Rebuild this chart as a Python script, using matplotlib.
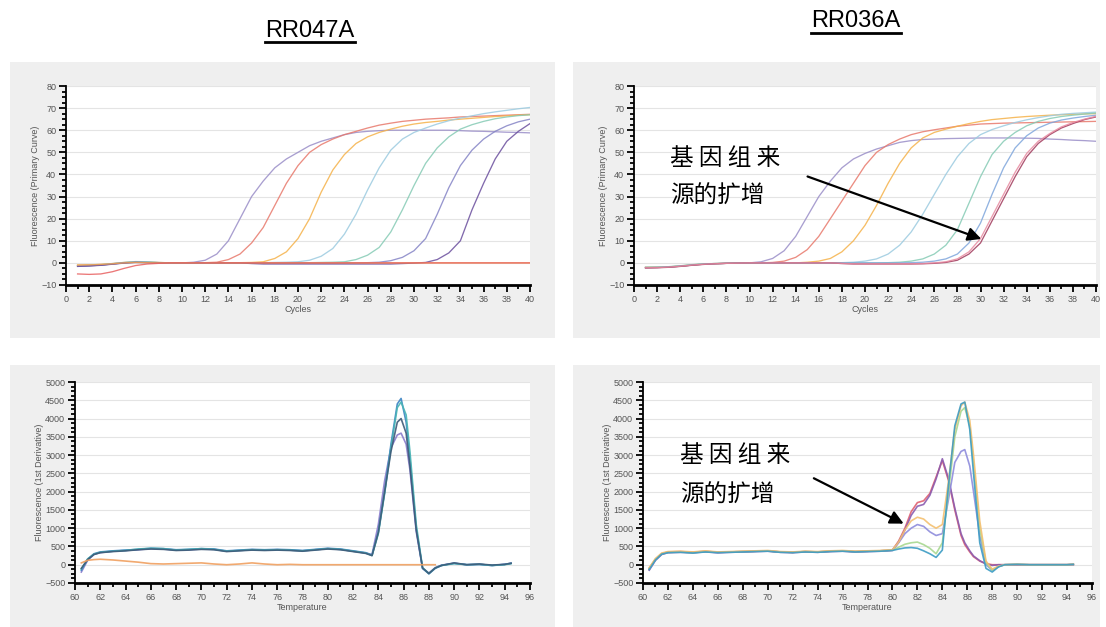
import matplotlib
matplotlib.use('Agg')
import matplotlib.pyplot as plt
from matplotlib.patches import Rectangle
from matplotlib.lines import Line2D
from matplotlib.ticker import MultipleLocator

plt.rcParams['font.family'] = ['Liberation Sans', 'DejaVu Sans']

# ---------------- data ----------------
cycles = list(range(1, 41))

# RR047A amplification (fluorescence per cycle)
amp1 = {
    '#9a8ec8': [-1.5, -1.3, -1.0, -0.5, 0.0, 0.3, 0.2, 0.0, 0.0, 0.0, 0.3, 1.2, 4, 10, 20, 30, 37, 43, 47, 50,
                53, 55, 56.5, 58, 59, 59.5, 59.8, 60, 60, 60, 60, 60, 60, 59.8, 59.6, 59.5, 59.3, 59.1, 59, 58.8],
    '#e8796c': [-1.2, -1.1, -0.9, -0.4, 0.1, 0.4, 0.3, 0.1, 0.0, 0.0, 0.0, 0.1, 0.3, 1.5, 4, 9, 16, 26, 36, 44,
                50, 53.5, 56, 58, 59.5, 61, 62.3, 63.2, 64, 64.5, 65, 65.3, 65.6, 66, 66.2, 66.4, 66.6, 66.8, 67, 67.2],
    '#f5b24a': [-1.0, -0.9, -0.7, -0.3, 0.2, 0.5, 0.4, 0.2, 0.0, 0.0, 0.0, 0.0, 0.0, 0.0, 0.1, 0.2, 0.5, 2, 5, 11,
                20, 32, 42, 49, 54, 57, 59, 60.5, 61.8, 62.8, 63.5, 64, 64.6, 65, 65.4, 65.8, 66.2, 66.5, 66.8, 67],
    '#9ccbe0': [-1.3, -1.1, -0.8, -0.3, 0.2, 0.6, 0.5, 0.2, 0.0, 0.0, 0.0, 0.0, 0.0, 0.0, 0.0, 0.0, 0.1, 0.2, 0.3, 0.5,
                1.2, 3, 6.5, 13, 22, 33, 43, 51, 56, 59, 61, 62.8, 64.3, 65.5, 66.5, 67.5, 68.3, 69, 69.7, 70.3],
    '#86cbb5': [-1.4, -1.2, -0.9, -0.4, 0.1, 0.5, 0.4, 0.1, 0.0, 0.0, 0.0, 0.0, 0.0, 0.0, 0.0, 0.0, 0.0, 0.0, 0.0, 0.1,
                0.1, 0.2, 0.3, 0.5, 1.5, 3.5, 7, 14, 24, 35, 45, 52, 57, 60.5, 62.5, 64, 65.2, 66, 66.6, 67],
    '#8584c6': [-1.5, -1.3, -1.0, -0.5, 0.0, 0.3, 0.2, 0.0, 0.0, 0.0, 0.0, 0.0, 0.0, 0.0, 0.0, 0.0, -0.2, -0.2, -0.2, -0.2,
                -0.2, -0.2, -0.2, -0.1, 0.0, 0.1, 0.3, 1, 2.5, 5.5, 11, 22, 34, 44, 51, 56, 59.5, 62, 63.8, 65],
    '#6b4f9e': [-1.6, -1.4, -1.1, -0.6, -0.1, 0.2, 0.1, 0.0, 0.0, 0.0, 0.0, 0.0, 0.0, 0.0, 0.0, -0.3, -0.5, -0.5, -0.5, -0.5,
                -0.5, -0.5, -0.5, -0.5, -0.5, -0.5, -0.5, -0.5, -0.3, -0.1, 0.2, 1.5, 4.5, 10, 24, 36, 47, 55, 59.5, 63],
    '#f0a050': [-1.0, -0.9, -0.7, -0.4, 0.0, 0.2, 0.1, 0.0, 0.0, 0.0, 0.0, 0.0, 0.0, 0.0, 0.0, 0.0, 0.0, 0.0, 0.0, 0.0,
                0.0, 0.0, 0.0, 0.0, 0.0, 0.0, 0.0, 0.0, 0.0, 0.0, 0.0, 0.0, 0.0, 0.0, 0.0, 0.0, 0.0, 0.0, 0.0, 0.0],
    '#e86060': [-5.0, -5.2, -5.0, -4.0, -2.5, -1.2, -0.5, -0.2, 0.0, 0.0, 0.0, 0.0, 0.0, 0.0, 0.0, 0.0, 0.0, 0.0, 0.0, 0.0,
                0.0, 0.0, 0.0, 0.0, 0.0, 0.0, 0.0, 0.0, 0.0, 0.0, 0.0, 0.0, 0.0, 0.0, 0.0, 0.0, 0.0, 0.0, 0.0, 0.0],
}

# RR036A amplification
amp2 = {
    '#9a8ec8': [-2.0, -2.0, -1.8, -1.5, -1.0, -0.5, -0.3, -0.2, -0.1, 0.0, 0.5, 2, 5.5, 12, 21, 30, 37, 43, 47, 49.5,
                51.5, 53, 54.5, 55.3, 55.8, 56, 56.2, 56.3, 56.4, 56.5, 56.5, 56.5, 56.5, 56.4, 56.3, 56, 55.8, 55.5, 55.3, 55],
    '#e8796c': [-2.2, -2.1, -1.9, -1.5, -1.0, -0.6, -0.4, -0.2, -0.1, 0.0, 0.0, 0.2, 0.8, 2.5, 6, 12, 20, 28, 36, 44,
                50, 53.5, 56, 58, 59.3, 60.2, 61, 61.8, 62.3, 62.8, 63, 63.2, 63.3, 63.4, 63.5, 63.6, 63.7, 63.8, 63.9, 64],
    '#f5b24a': [-2.0, -1.9, -1.8, -1.4, -0.9, -0.5, -0.3, -0.2, -0.1, 0.0, 0.0, 0.0, 0.0, 0.0, 0.3, 0.8, 2, 5, 10, 17,
                26, 36, 45, 52, 56.5, 59, 60.5, 61.8, 63, 64, 64.8, 65.3, 65.8, 66.2, 66.5, 66.8, 67, 67.2, 67.4, 67.5],
    '#9ccbe0': [-2.1, -2.0, -1.8, -1.4, -0.9, -0.5, -0.3, -0.2, -0.1, 0.0, 0.0, 0.0, 0.0, 0.0, 0.0, 0.0, 0.0, 0.1, 0.3, 0.8,
                1.8, 4, 8, 14, 22, 31, 40, 48, 54, 58, 60.3, 62, 63.5, 64.7, 65.7, 66.5, 67.2, 67.6, 67.9, 68.2],
    '#86cbb5': [-2.0, -1.9, -1.7, -1.3, -0.8, -0.4, -0.3, -0.2, -0.1, 0.0, 0.0, 0.0, 0.0, 0.0, 0.0, 0.0, 0.0, 0.0, 0.0, 0.0,
                0.0, 0.1, 0.3, 0.8, 1.8, 4, 8, 15, 27, 39, 49, 55, 59, 62, 64, 65.3, 66.2, 66.8, 67.3, 67.8],
    '#7fa6dc': [-2.2, -2.1, -1.9, -1.5, -1.0, -0.6, -0.4, -0.2, -0.1, 0.0, 0.0, 0.0, 0.0, 0.0, 0.0, 0.0, 0.0, 0.0, 0.0, 0.0,
                0.0, 0.0, 0.0, 0.1, 0.3, 0.8, 1.8, 4, 9, 18, 31, 43, 52, 57.5, 61, 63.2, 64.6, 65.5, 66.2, 66.8],
    '#a03a5c': [-2.3, -2.2, -2.0, -1.6, -1.1, -0.7, -0.4, -0.2, -0.1, 0.0, 0.0, 0.0, 0.0, 0.0, 0.0, 0.0, 0.0, -0.3, -0.5, -0.5,
                -0.5, -0.5, -0.5, -0.5, -0.4, -0.2, 0.2, 1.2, 4, 9, 19, 29, 39, 48, 54, 58, 61, 63, 64.8, 66],
    '#e88aa0': [-2.2, -2.1, -1.9, -1.5, -1.0, -0.6, -0.4, -0.2, -0.1, 0.0, 0.0, 0.0, 0.0, 0.0, 0.0, 0.0, 0.0, -0.2, -0.4, -0.4,
                -0.4, -0.4, -0.4, -0.4, -0.3, 0.0, 0.5, 1.8, 5, 11, 21, 31, 41, 49.5, 55, 58.5, 61.5, 63.5, 65, 66.3],
}

# RR047A melt curve (1st derivative)
temp1 = [60.5, 61, 61.5, 62, 63, 64, 65, 66, 67, 68, 69, 70, 71, 72, 73, 74, 75, 76, 77, 78, 79, 80, 81, 82, 83,
         83.5, 84, 84.5, 85, 85.5, 85.8, 86.2, 86.5, 87, 87.5, 88, 88.5, 89, 90, 91, 92, 93, 94, 94.5]
melt1 = {
    '#8a7ccc': [-200, 120, 280, 330, 370, 390, 410, 440, 430, 400, 410, 430, 420, 370, 390, 410, 400, 410, 400, 380,
                410, 440, 420, 370, 320, 280, 1100, 2300, 3200, 3550, 3600, 3300, 2600, 900, -100, -230, -80, -10, 40, 0, 10, -20, 10, 40],
    '#3c84c4': [-150, 150, 300, 350, 380, 400, 420, 450, 440, 410, 420, 440, 430, 380, 400, 420, 410, 420, 410, 390,
                420, 450, 430, 380, 330, 260, 900, 2000, 3300, 4400, 4550, 3900, 2900, 1000, -100, -250, -100, -20, 40, 0, 10, -20, 10, 40],
    '#48b4b4': [-120, 160, 290, 340, 370, 390, 430, 450, 440, 400, 420, 440, 420, 370, 390, 410, 400, 410, 400, 380,
                410, 440, 420, 370, 320, 250, 850, 1950, 3200, 4300, 4450, 4100, 3100, 1100, -80, -240, -90, -20, 30, 0, 10, -20, 0, 30],
    '#3e5a78': [-100, 140, 280, 330, 360, 380, 410, 430, 420, 390, 400, 420, 410, 360, 380, 400, 390, 400, 390, 370,
                400, 430, 410, 360, 310, 250, 880, 2000, 3100, 3900, 4000, 3600, 2700, 950, -90, -240, -90, -20, 50, 0, 20, -10, 10, 40],
    '#f0a060': [50, 120, 140, 150, 130, 100, 70, 30, 20, 30, 40, 50, 20, 0, 20, 50, 20, 0, 10, 0,
                0, 0, 0, 0, 0, 0, 0, 0, 0, 0, 0, 0, 0, 0, 0, 0, 0, None, None, None, None, None, None, None],
}

# RR036A melt curve
temp2 = [60.5, 61, 61.5, 62, 63, 64, 65, 66, 67, 68, 69, 70, 71, 72, 73, 74, 75, 76, 77, 78, 79, 80, 80.5, 81, 81.5,
         82, 82.5, 83, 83.5, 84, 84.5, 85, 85.5, 85.8, 86.2, 86.5, 87, 87.5, 88, 88.5, 89, 90, 91, 92, 93, 94, 94.5]
melt2 = {
    '#e06070': [-100, 150, 300, 350, 360, 340, 370, 340, 350, 360, 370, 380, 350, 340, 360, 350, 370, 380, 360, 370,
                380, 400, 650, 1000, 1450, 1700, 1750, 1950, 2400, 2850, 2300, 1500, 800, 550, 350, 220, 100, 30, 0, 0,
                0, 0, 0, 0, 0, 0, 10],
    '#8a5cb0': [-150, 120, 280, 330, 340, 330, 350, 330, 340, 350, 360, 370, 340, 330, 350, 340, 360, 370, 350, 360,
                370, 390, 620, 950, 1350, 1600, 1650, 1900, 2350, 2900, 2350, 1550, 850, 600, 380, 240, 110, 20, -20, 0,
                0, 0, 0, 0, 0, 0, 0],
    '#8e8cdc': [-120, 140, 300, 340, 350, 330, 360, 330, 350, 360, 370, 380, 350, 340, 360, 350, 370, 380, 360, 370,
                380, 400, 600, 850, 1000, 1100, 1050, 900, 800, 850, 1800, 2800, 3100, 3150, 2700, 2000, 800, 0, -150, -50,
                0, 10, 0, 0, 0, 0, 10],
    '#a8d890': [-100, 150, 300, 340, 350, 330, 360, 340, 350, 360, 370, 380, 350, 340, 360, 350, 370, 380, 360, 370,
                380, 400, 480, 560, 600, 620, 550, 450, 300, 600, 2000, 3500, 4200, 4300, 3800, 2800, 1000, 50, -150, -50,
                0, 10, 0, 0, 0, 0, 10],
    '#f4c070': [-80, 170, 320, 360, 370, 350, 380, 350, 360, 370, 380, 390, 360, 350, 370, 360, 380, 390, 370, 380,
                390, 410, 620, 950, 1200, 1300, 1250, 1100, 1000, 1100, 2300, 3700, 4350, 4450, 3950, 3000, 1200, 100, -120, -40,
                0, 10, 0, 0, 0, 0, 10],
    '#3c9cc4': [-130, 130, 290, 330, 340, 320, 350, 330, 340, 350, 360, 370, 340, 330, 350, 340, 360, 370, 350, 360,
                370, 390, 430, 460, 470, 450, 380, 300, 200, 400, 2200, 3800, 4400, 4450, 3700, 2500, 600, -100, -200, -60,
                0, 10, 0, 0, 0, 0, 10],
}

# ---------------- figure ----------------
W, H = 1106, 627
fig = plt.figure(figsize=(W / 100, H / 100), dpi=100)
fig.patch.set_facecolor('white')


def px_box(x0, y0, x1, y1):
    return [x0 / W, 1 - y1 / H, (x1 - x0) / W, (y1 - y0) / H]


# grey panel backgrounds
for x0, y0, x1, y1 in [(10, 62, 555, 338), (573, 62, 1100, 338), (10, 365, 555, 627), (573, 365, 1100, 627)]:
    fig.patches.append(Rectangle((x0 / W, 1 - y1 / H), (x1 - x0) / W, (y1 - y0) / H,
                                 transform=fig.transFigure, facecolor='#efefef', edgecolor='none', zorder=-5))


def style_axes(ax, xlim, ylim, xmaj, ymaj, ymin, xlabel, ylabel):
    ax.set_facecolor('white')
    ax.set_xlim(*xlim)
    ax.set_ylim(*ylim)
    ax.xaxis.set_major_locator(MultipleLocator(xmaj))
    ax.xaxis.set_minor_locator(MultipleLocator(xmaj / 2))
    ax.yaxis.set_major_locator(MultipleLocator(ymaj))
    ax.yaxis.set_minor_locator(MultipleLocator(ymin))
    for s in ['top', 'right']:
        ax.spines[s].set_visible(False)
    ax.spines['left'].set_linewidth(1.3)
    ax.spines['bottom'].set_linewidth(2.0)
    ax.tick_params(which='major', length=5, width=1.3, labelsize=6.5, labelcolor='#555555', pad=2)
    ax.tick_params(which='minor', length=3, width=1.3)
    ax.grid(axis='y', color='#e4e4e4', linewidth=0.8)
    ax.set_axisbelow(True)
    ax.set_xlabel(xlabel, fontsize=6.5, color='#555555', labelpad=1)
    ax.set_ylabel(ylabel, fontsize=6.5, color='#555555', labelpad=1)


ax1 = fig.add_axes(px_box(66, 86, 530, 285))
ax2 = fig.add_axes(px_box(634, 86, 1096, 285))
ax3 = fig.add_axes(px_box(75, 382, 530, 583))
ax4 = fig.add_axes(px_box(643, 382, 1092, 583))

for ax, data in [(ax1, amp1), (ax2, amp2)]:
    for color, vals in data.items():
        ax.plot(cycles, vals, color=color, linewidth=0.95, alpha=0.85)
    style_axes(ax, (0, 40), (-10, 80), 2, 10, 2.5, 'Cycles', 'Fluorescence (Primary Curve)')

for ax, temps, data in [(ax3, temp1, melt1), (ax4, temp2, melt2)]:
    for color, vals in data.items():
        ax.plot(temps, vals, color=color, linewidth=1.2, alpha=0.9)
    style_axes(ax, (60, 96), (-500, 5000), 2, 500, 125, 'Temperature', 'Fluorescence (1st Derivative)')

# titles with underline
for label, cx, cy, uy in [('RR047A', 310, 31, 42), ('RR036A', 856, 21, 33)]:
    fig.text(cx / W, 1 - cy / H, label, ha='center', va='center', fontsize=17,
             family=['Liberation Sans Narrow', 'Liberation Sans'])
    fig.lines.append(Line2D([(cx - 45) / W, (cx + 45) / W], [1 - uy / H, 1 - uy / H],
                            transform=fig.transFigure, color='black', linewidth=2))

cjk = ['Noto Sans CJK SC', 'DejaVu Sans']
# annotation on RR036A amplification
ax2.text(3.1, 47, '基 因 组 来', fontsize=17, family=cjk, va='center', ha='left')
ax2.text(3.1, 30, '源的扩增', fontsize=17, family=cjk, va='center', ha='left')
ax2.annotate('', xy=(30.3, 10.4), xytext=(14.8, 39.5),
             arrowprops=dict(arrowstyle='-|>', color='black', lw=1.6, mutation_scale=20))

# annotation on RR036A melt curve
ax4.text(63.0, 3000, '基 因 组 来', fontsize=17, family=cjk, va='center', ha='left')
ax4.text(63.0, 1900, '源的扩增', fontsize=17, family=cjk, va='center', ha='left')
ax4.annotate('', xy=(81.1, 1090), xytext=(73.5, 2400),
             arrowprops=dict(arrowstyle='-|>', color='black', lw=1.6, mutation_scale=20))

fig.savefig('out.png', dpi=100)
